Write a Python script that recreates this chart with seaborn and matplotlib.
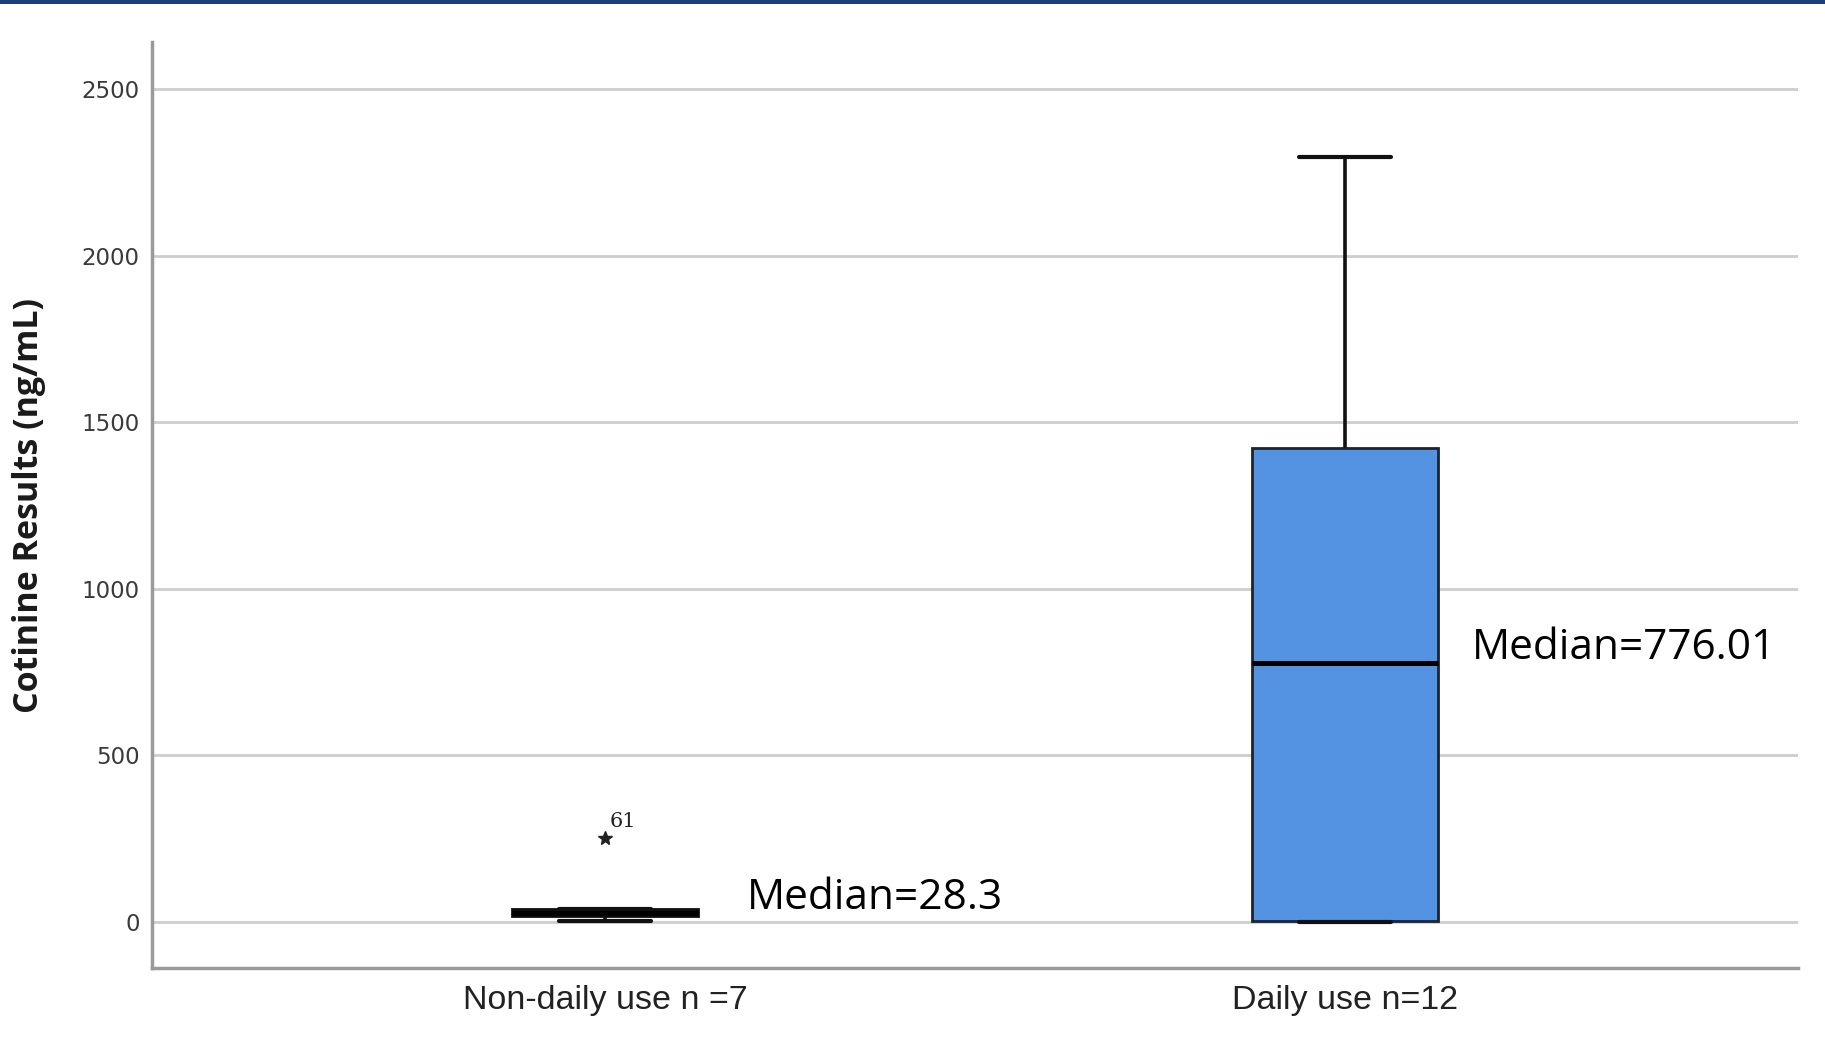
import numpy as np
import pandas as pd
import matplotlib
matplotlib.use("Agg")
import matplotlib.pyplot as plt
from matplotlib.patches import Rectangle
import seaborn as sns

# Groups and five-number summaries of cotinine (ng/mL)
groups = ["Non-daily use n =7", "Daily use n=12"]
whisker_low = [3.0, 0.5]
q1 = [17.0, 4.0]
median = [28.3, 776.01]
q3 = [38.0, 1422.0]
whisker_high = [38.0, 2296.0]

# Extreme value flagged for the non-daily group
outlier_group = "Non-daily use n =7"
outlier_value = 252.0
outlier_case = "61"

median_labels = ["Median=28.3", "Median=776.01"]

# Long table of the summary points per group (quartiles fall exactly on them)
rows = []
for g, a, b, c, d, e in zip(groups, whisker_low, q1, median, q3, whisker_high):
    for v in (a, b, c, d, e):
        rows.append({"group": g, "value": v})
df = pd.DataFrame(rows)

sns.set_theme(style="white")
plt.rcParams["font.family"] = ["DejaVu Sans"]

fig = plt.figure(figsize=(18.25, 10.4), dpi=100)
ax = fig.add_axes([0.0833, 0.0692, 0.9019, 0.8904])

# Thin navy band across the top of the slide
fig.add_artist(Rectangle((0, 1 - 3.5 / 1040), 1, 3.5 / 1040, transform=fig.transFigure,
                         facecolor="#1F3E78", edgecolor="none"))

ax.yaxis.grid(True, color="#cdcdcd", linewidth=2.0)
ax.set_axisbelow(True)

sns.boxplot(data=df, x="group", y="value", order=groups, ax=ax,
            width=0.251, whis=(0, 100), showfliers=False,
            color="#5492E2", saturation=1,
            boxprops=dict(facecolor="#5492E2", edgecolor="#1B2433", linewidth=2.0),
            medianprops=dict(color="#000000", linewidth=3.6),
            whiskerprops=dict(color="#111111", linewidth=2.6),
            capprops=dict(color="#111111", linewidth=3.0))

# The flattened non-daily box reads as a solid dark bar
ax.patches[0].set_facecolor("#0d0d0d")
ax.patches[0].set_edgecolor("#0d0d0d")

# Outlier star with its case number
ox = groups.index(outlier_group)
ax.plot([ox], [outlier_value], marker="*", color="#222222", markersize=10,
        linestyle="none", zorder=5)
ax.text(ox + 0.006, outlier_value + 20, outlier_case, fontsize=15,
        family="DejaVu Serif", color="#222222", ha="left", va="bottom")

# Median annotations
med_x = [0.192, 1.172]
med_y = [40, 790]
for x, y, t in zip(med_x, med_y, median_labels):
    ax.text(x, y, t, fontsize=30.5, family="Open Sans", color="#000000",
            ha="left", va="baseline")

ax.set_xlim(-0.612, 1.612)
ax.set_ylim(-138, 2641)
ax.set_yticks([0, 500, 1000, 1500, 2000, 2500])

ax.set_xlabel("")
ax.set_ylabel("Cotinine Results (ng/mL)", fontsize=24.5, fontweight="bold",
              family="Open Sans", color="#1a1a1a")
ax.yaxis.set_label_coords(-0.0645, 0.5)

ax.tick_params(axis="y", length=0, pad=9, labelsize=16.5, labelcolor="#3a3a3a")
ax.tick_params(axis="x", length=0, pad=12, labelsize=24.5, labelcolor="#222222")
for lab in ax.get_xticklabels():
    lab.set_family("Liberation Sans")

for side in ("top", "right"):
    ax.spines[side].set_visible(False)
for side in ("left", "bottom"):
    ax.spines[side].set_color("#9a9a9a")
    ax.spines[side].set_linewidth(2.5)

fig.savefig("out.png", dpi=100, facecolor="white")
